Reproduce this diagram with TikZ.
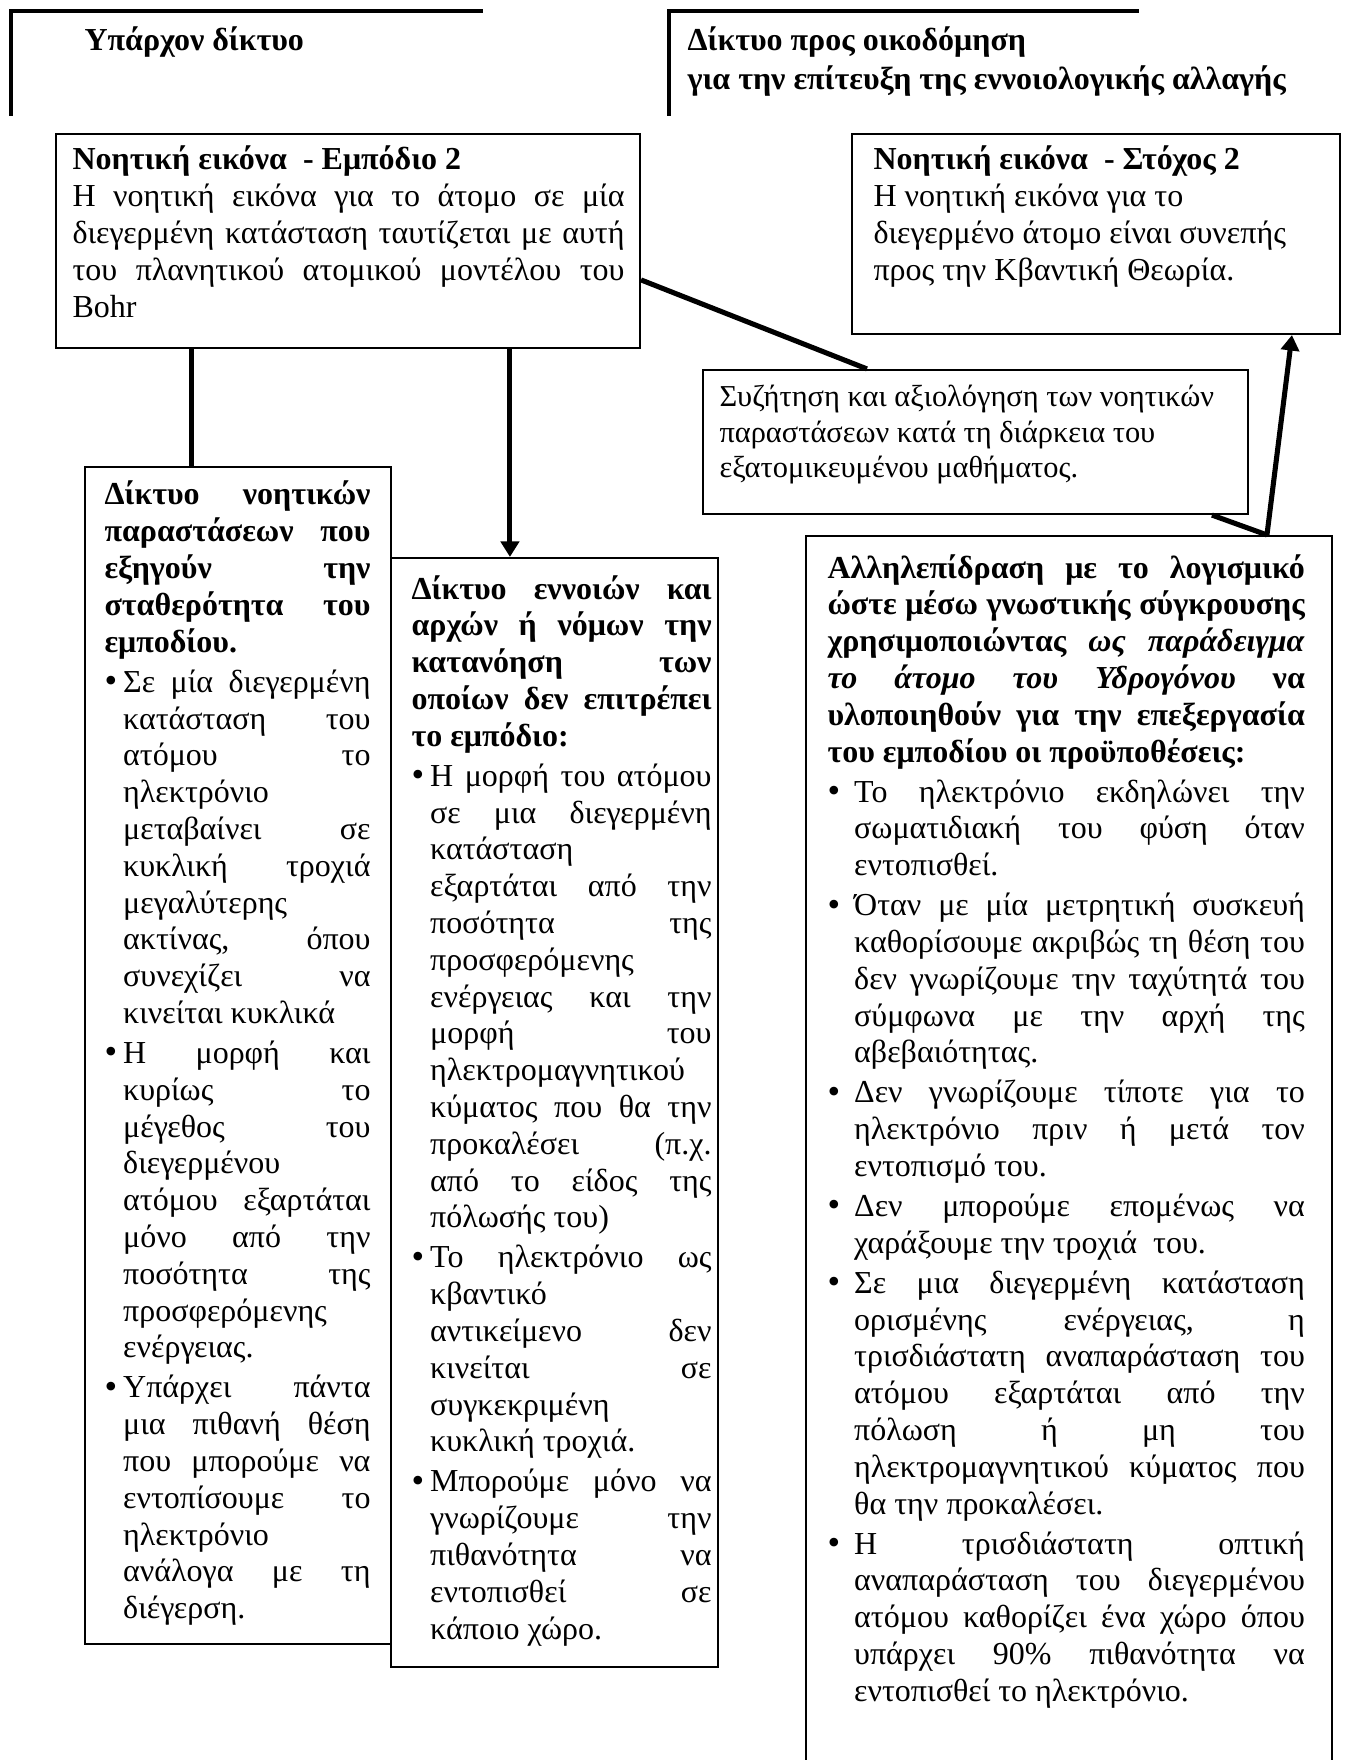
\documentclass[tikz,border=0pt]{standalone}
\usepackage{fontspec}
\setmainfont{Liberation Serif}
\usetikzlibrary{arrows.meta,fit,calc}
\newlength\hangw
\newcommand\bul{\makebox[\hangw][l]{\raisebox{-0.2pt}{\fontsize{13.5pt}{13.5pt}\selectfont\textbullet}}}
\newcommand\jline[1]{\makebox[\hsize][s]{#1}\par}
\newcommand\lline[1]{{#1\par}}
\newcommand\bjline[1]{\vspace{1.2pt}\bul\makebox[\dimexpr\hsize-\hangw\relax][s]{#1}\par}
\newcommand\blline[1]{\vspace{1.2pt}{\bul#1\par}}
\newcommand\cjline[1]{\hspace*{\hangw}\makebox[\dimexpr\hsize-\hangw\relax][s]{#1}\par}
\newcommand\clline[1]{{\hspace*{\hangw}#1\par}}
\begin{document}
\begin{tikzpicture}[x=0.375pt,y=-0.375pt,
  box/.style={draw, line width=0.8pt, fill=white, inner sep=0pt},
  conn/.style={line width=1.9pt},
  arr/.style={line width=1.9pt, -{Triangle[length=5.8pt,width=6.8pt]}},
  bracket/.style={line width=1.8pt, line join=miter},
  txt/.style={anchor=base west, inner sep=0pt, font=\fontsize{12pt}{13.8pt}\selectfont,
    execute at begin node={\spaceskip=0pt\xspaceskip=0pt\parindent=0pt\rightskip=0pt\leftskip=0pt}},
  title/.style={anchor=base west, inner sep=0pt, font=\fontsize{12pt}{13.8pt}\selectfont\bfseries}]
\path[use as bounding box, fill=white] (0,0) rectangle (1349,1760);

% header brackets
\draw[bracket] (11,116) -- (11,11) -- (483,11);
\draw[bracket] (669,116) -- (669,11) -- (1139,11);
\node[title] (t1) at (84,51) {Υπάρχον δίκτυο};
\node[title] (t2) at (687,51) {Δίκτυο προς οικοδόμηση};
\node[title] (t3) at (687,90) {για την επίτευξη της εννοιολογικής αλλαγής};

% boxes
\node[box, fit={(56,134) (640,348)}] (A) {};
\node[box, fit={(852,134) (1340,334)}] (B) {};
\node[box, fit={(703,370) (1248,514)}] (C) {};
\node[box, fit={(85,467) (391,1644)}] (D) {};
\node[box, fit={(391,558) (718,1667)}] (E) {};
\node[box, fit={(806,536) (1332,1800)}] (F) {};

% box A text
\node[txt, text width=207pt] (At) at (72,170) {%
\lline{\textbf{Νοητική εικόνα~ - Εμπόδιο 2}}
\jline{Η νοητική εικόνα για το άτομο σε μία}
\jline{διεγερμένη κατάσταση ταυτίζεται με αυτή}
\jline{του πλανητικού ατομικού μοντέλου του}
\lline{Bohr}};

% box B text
\node[txt, text width=180pt] (Bt) at (873,170) {%
\lline{\textbf{Νοητική εικόνα~ - Στόχος 2}}
\lline{Η νοητική εικόνα για το}
\lline{διεγερμένο άτομο είναι συνεπής}
\lline{προς την Κβαντική Θεωρία.}};

% box C text
\node[txt, text width=195pt, font=\fontsize{11.4pt}{13.2pt}\selectfont] (Ct) at (719,407) {%
\lline{Συζήτηση και αξιολόγηση των νοητικών}
\lline{παραστάσεων κατά τη διάρκεια του}
\lline{εξατομικευμένου μαθήματος.}};

% box D text
\node[txt, text width=99.75pt] (Dt) at (104,505) {%
\setlength\hangw{7pt}%
\jline{\bfseries Δίκτυο νοητικών}
\jline{\bfseries παραστάσεων που}
\jline{\bfseries εξηγούν την}
\jline{\bfseries σταθερότητα του}
\lline{\bfseries εμποδίου.}
\bjline{Σε μία διεγερμένη}
\cjline{κατάσταση του}
\cjline{ατόμου το}
\clline{ηλεκτρόνιο}
\cjline{μεταβαίνει σε}
\cjline{κυκλική τροχιά}
\clline{μεγαλύτερης}
\cjline{ακτίνας, όπου}
\cjline{συνεχίζει να}
\clline{κινείται κυκλικά}
\bjline{Η μορφή και}
\cjline{κυρίως το}
\cjline{μέγεθος του}
\clline{διεγερμένου}
\cjline{ατόμου εξαρτάται}
\cjline{μόνο από την}
\cjline{ποσότητα της}
\clline{προσφερόμενης}
\clline{ενέργειας.}
\bjline{Υπάρχει πάντα}
\cjline{μια πιθανή θέση}
\cjline{που μπορούμε να}
\cjline{εντοπίσουμε το}
\clline{ηλεκτρόνιο}
\cjline{ανάλογα με τη}
\clline{διέγερση.}};

% box E text
\node[txt, text width=112.5pt] (Et) at (411,599) {%
\setlength\hangw{7pt}%
\jline{\bfseries Δίκτυο εννοιών και}
\jline{\bfseries αρχών ή νόμων την}
\jline{\bfseries κατανόηση των}
\jline{\bfseries οποίων δεν επιτρέπει}
\lline{\bfseries το εμπόδιο:}
\bjline{Η μορφή του ατόμου}
\cjline{σε μια διεγερμένη}
\clline{κατάσταση}
\cjline{εξαρτάται από την}
\cjline{ποσότητα της}
\clline{προσφερόμενης}
\cjline{ενέργειας και την}
\cjline{μορφή του}
\clline{ηλεκτρομαγνητικού}
\cjline{κύματος που θα την}
\cjline{προκαλέσει (π.χ.}
\cjline{από το είδος της}
\clline{πόλωσής του)}
\bjline{Το ηλεκτρόνιο ως}
\clline{κβαντικό}
\cjline{αντικείμενο δεν}
\cjline{κινείται σε}
\clline{συγκεκριμένη}
\clline{κυκλική τροχιά.}
\bjline{Μπορούμε μόνο να}
\cjline{γνωρίζουμε την}
\cjline{πιθανότητα να}
\cjline{εντοπισθεί σε}
\clline{κάποιο χώρο.}};

% box F text
\node[txt, text width=179pt] (Ft) at (827,578) {%
\setlength\hangw{10pt}%
\jline{\bfseries Αλληλεπίδραση με το λογισμικό}
\jline{\bfseries ώστε μέσω γνωστικής σύγκρουσης}
\jline{\bfseries χρησιμοποιώντας \textit{ως παράδειγμα}}
\jline{\bfseries \textit{το άτομο του Υδρογόνου} να}
\jline{\bfseries υλοποιηθούν για την επεξεργασία}
\lline{\bfseries του εμποδίου οι προϋποθέσεις:}
\bjline{Το ηλεκτρόνιο εκδηλώνει την}
\cjline{σωματιδιακή του φύση όταν}
\clline{εντοπισθεί.}
\bjline{Όταν με μία μετρητική συσκευή}
\cjline{καθορίσουμε ακριβώς τη θέση του}
\cjline{δεν γνωρίζουμε την ταχύτητά του}
\cjline{σύμφωνα με την αρχή της}
\clline{αβεβαιότητας.}
\bjline{Δεν γνωρίζουμε τίποτε για το}
\cjline{ηλεκτρόνιο πριν ή μετά τον}
\clline{εντοπισμό του.}
\bjline{Δεν μπορούμε επομένως να}
\clline{χαράξουμε την τροχιά~ του.}
\bjline{Σε μια διεγερμένη κατάσταση}
\cjline{ορισμένης ενέργειας, η}
\cjline{τρισδιάστατη αναπαράσταση του}
\cjline{ατόμου εξαρτάται από την}
\cjline{πόλωση ή μη του}
\cjline{ηλεκτρομαγνητικού κύματος που}
\clline{θα την προκαλέσει.}
\bjline{Η τρισδιάστατη οπτική}
\cjline{αναπαράσταση του διεγερμένου}
\cjline{ατόμου καθορίζει ένα χώρο όπου}
\cjline{υπάρχει 90\% πιθανότητα να}
\clline{εντοπισθεί το ηλεκτρόνιο.}};

% connectors
\coordinate (dtop) at ($(D.north west)+(108,0)$);
\coordinate (etop) at ($(E.north west)+(120,0)$);
\coordinate (aright) at ($(A.north east)+(0,147)$);
\coordinate (ctop) at ($(C.north west)+(165,0)$);
\coordinate (cbot) at ($(C.south west)+(510,0)$);
\coordinate (ftop) at ($(F.north west)+(462,0)$);
\coordinate (bbot) at ($(B.south west)+(441,0)$);
\draw[conn] (dtop |- A.south) -- (dtop);
\draw[arr] (etop |- A.south) -- (etop);
\draw[conn] (aright) -- (ctop);
\draw[conn] (cbot) -- (ftop);
\draw[arr] (ftop) -- (bbot);
\end{tikzpicture}
\end{document}
